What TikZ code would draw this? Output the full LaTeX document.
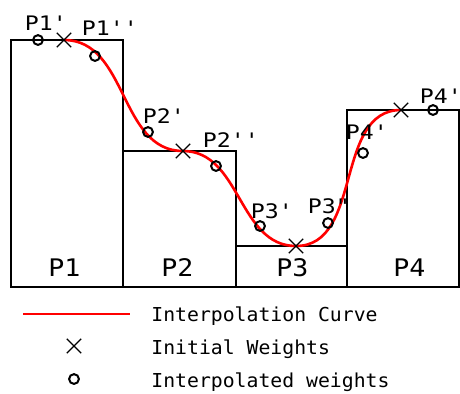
\documentclass[tikz,border=0pt]{standalone}
\usepackage{fontspec}
\newfontfamily\lblfont[FakeStretch=1.16]{DejaVu Sans Mono}
\newfontfamily\barfont[FakeStretch=1.1]{DejaVu Sans Mono}
\newfontfamily\legfont[FakeStretch=1.03]{DejaVu Sans Mono}
\usetikzlibrary{shapes.misc,backgrounds}

\begin{document}
\begin{tikzpicture}[
			x=0.5pt, y=-0.5pt,
			bar/.style={draw, line width=0.8pt},
			curve/.style={red, line width=1.3pt},
			initw/.style={draw, cross out, minimum size=6.5pt, inner sep=0pt, line width=0.65pt},
			interw/.style={draw, circle, minimum size=4.9pt, inner sep=0pt, line width=1pt},
			wlabel/.style={anchor=base west, inner sep=0pt, font=\lblfont\fontsize{10}{12}\selectfont},
			barlabel/.style={anchor=base west, inner sep=0pt, font=\barfont\fontsize{12.1}{14}\selectfont},
			legtext/.style={anchor=base west, inner sep=0pt, font=\legfont\fontsize{9.6}{11}\selectfont}
			]
			\useasboundingbox (0,0) rectangle (460,393);
			
			% Initial weights (one per partition)
			\node[initw] (w1) at (64,40) {};
			\node[initw] (w2) at (183,151) {};
			\node[initw] (w3) at (296,246) {};
			\node[initw] (w4) at (401,110) {};
			
			% Partitions and curve (behind the markers)
			\begin{scope}[on background layer]
				\draw[bar] (11,287) rectangle (123,40);
				\draw[bar] (123,287) rectangle (236,151);
				\draw[bar] (236,287) rectangle (347,246);
				\draw[bar] (347,287) rectangle (459,110);
				\draw[curve] (w1.center) to[out=0, in=180] (w2.center)
					to[out=0, in=180] (w3.center) to[out=0, in=180] (w4.center);
			\end{scope}
			
			\node[barlabel] (p1) at (48,276) {P1};
			\node[barlabel] (p2) at (161,276) {P2};
			\node[barlabel] (p3) at (276,276) {P3};
			\node[barlabel] (p4) at (393,276) {P4};
			
			% Interpolated weights
			\node[interw] (c1) at (38,40) {};
			\node[interw] (c2) at (95,56) {};
			\node[interw] (c3) at (148,132) {};
			\node[interw] (c4) at (216,166) {};
			\node[interw] (c5) at (260,226) {};
			\node[interw] (c6) at (328,223) {};
			\node[interw] (c7) at (363,153) {};
			\node[interw] (c8) at (433,110) {};
			
			\node[wlabel] (l1) at (24.5,30) {P1'};
			\node[wlabel] (l2) at (81.5,35) {P1''};
			\node[wlabel] (l3) at (142.5,123) {P2'};
			\node[wlabel] (l4) at (202.5,147) {P2''};
			\node[wlabel] (l5) at (250.5,218) {P3'};
			\node[wlabel] (l6) at (307.5,213) {P3"};
			\node[wlabel] (l7) at (345.5,139) {P4'};
			\node[wlabel] (l8) at (419.5,103) {P4'};
			
			% Legend
			\coordinate (lga) at (23,314);
			\coordinate (lgb) at (130,314);
			\draw[curve] (lga) -- (lgb);
			\node[initw] (lgw) at (74,346) {};
			\node[interw] (lgc) at (74,379) {};
			\node[legtext] (lg1) at (151,321) {Interpolation Curve};
			\node[legtext] (lg2) at (151,354) {Initial Weights};
			\node[legtext] (lg3) at (151,387) {Interpolated weights};
			
		\end{tikzpicture}
\end{document}
